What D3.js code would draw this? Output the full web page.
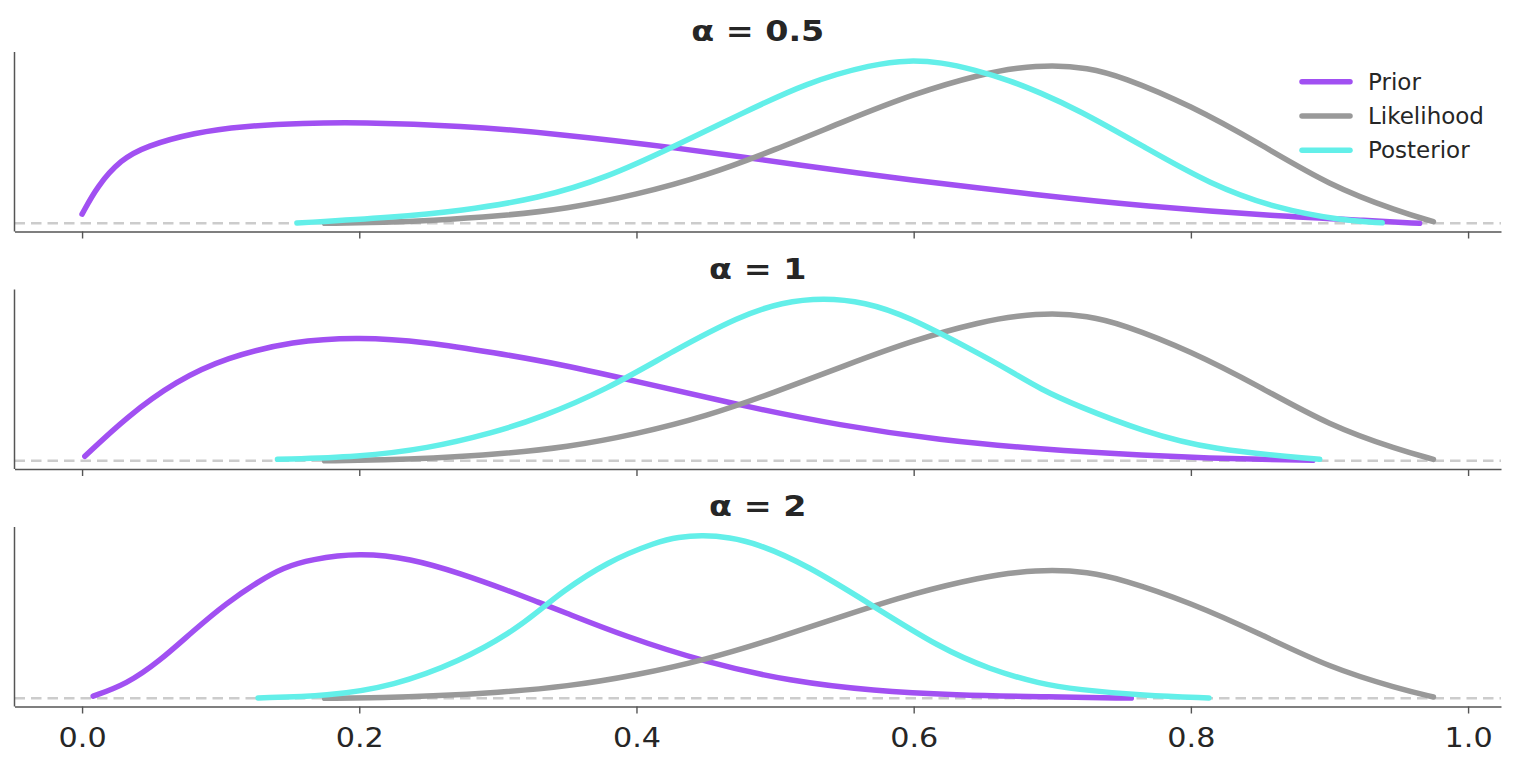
<!DOCTYPE html>
<html>
<head>
<meta charset="utf-8">
<script src="https://cdn.jsdelivr.net/npm/d3@7"></script>
<style>
  body { margin: 0; background: #fff; }
  svg { display: block; }
  text { font-family: "DejaVu Sans", sans-serif; fill: #262626; }
</style>
</head>
<body>
<div id="chart"></div>
<script>
// tick values / labels
const xTicks = [0, 0.2, 0.4, 0.6, 0.8, 1.0];
const xTickLabels = ['0.0', '0.2', '0.4', '0.6', '0.8', '1.0'];
const panelTitles = ['α = 0.5', 'α = 1', 'α = 2'];
const seriesNames = ['Prior', 'Likelihood', 'Posterior'];
const seriesColors = ['#a150f2', '#999999', '#63efe9'];

// likelihood (same in every panel)
const likelihoodX = [0.175, 0.22, 0.25, 0.30, 0.35, 0.40, 0.45, 0.50, 0.55, 0.60, 0.65, 0.675, 0.70, 0.725, 0.75, 0.80, 0.85, 0.90, 0.95, 0.975];
const likelihoodY = [0.00, 0.02, 0.05, 0.13, 0.27, 0.53, 0.88, 1.36, 1.89, 2.40, 2.77, 2.88, 2.93, 2.88, 2.72, 2.18, 1.47, 0.70, 0.22, 0.03];

// alpha = 0.5
const priorX05 = [0.0, 0.011, 0.028, 0.046, 0.081, 0.116, 0.16, 0.20, 0.273, 0.345, 0.426, 0.523, 0.595, 0.691, 0.766, 0.862, 0.93, 0.965];
const priorY05 = [0.17, 0.69, 1.18, 1.43, 1.68, 1.80, 1.855, 1.87, 1.81, 1.65, 1.41, 1.06, 0.81, 0.52, 0.32, 0.135, 0.05, 0.0];
const postX05 = [0.155, 0.224, 0.273, 0.330, 0.379, 0.426, 0.475, 0.523, 0.571, 0.597, 0.62, 0.643, 0.670, 0.691, 0.718, 0.766, 0.814, 0.862, 0.910, 0.938];
const postY05 = [0.005, 0.11, 0.23, 0.46, 0.85, 1.41, 2.02, 2.61, 2.95, 3.02, 2.98, 2.85, 2.64, 2.42, 2.11, 1.42, 0.72, 0.27, 0.05, 0.01];

// alpha = 1
const priorX1 = [0.002, 0.032, 0.068, 0.104, 0.152, 0.20, 0.249, 0.297, 0.345, 0.403, 0.475, 0.547, 0.619, 0.691, 0.766, 0.83, 0.888];
const priorY1 = [0.09, 0.87, 1.59, 2.05, 2.38, 2.46, 2.36, 2.15, 1.92, 1.56, 1.10, 0.70, 0.41, 0.23, 0.11, 0.04, 0.01];
const postX1 = [0.141, 0.20, 0.249, 0.297, 0.330, 0.379, 0.427, 0.475, 0.505, 0.535, 0.565, 0.595, 0.643, 0.670, 0.691, 0.718, 0.766, 0.814, 0.893];
const postY1 = [0.03, 0.08, 0.24, 0.56, 0.85, 1.42, 2.19, 2.88, 3.15, 3.24, 3.15, 2.88, 2.19, 1.78, 1.43, 1.09, 0.58, 0.22, 0.03];

// alpha = 2
const priorX2 = [0.008, 0.032, 0.056, 0.080, 0.104, 0.128, 0.145, 0.165, 0.20, 0.237, 0.273, 0.309, 0.330, 0.345, 0.391, 0.451, 0.511, 0.571, 0.631, 0.691, 0.757];
const priorY2 = [0.05, 0.32, 0.85, 1.53, 2.17, 2.68, 2.98, 3.17, 3.32, 3.19, 2.85, 2.44, 2.18, 2.00, 1.42, 0.81, 0.39, 0.17, 0.075, 0.036, 0.005];
const postX2 = [0.127, 0.177, 0.225, 0.273, 0.309, 0.330, 0.345, 0.379, 0.415, 0.43, 0.448, 0.467, 0.487, 0.523, 0.571, 0.619, 0.655, 0.691, 0.718, 0.766, 0.813];
const postY2 = [0.01, 0.05, 0.28, 0.85, 1.49, 2.00, 2.40, 3.12, 3.57, 3.68, 3.72, 3.67, 3.53, 3.04, 2.10, 1.15, 0.66, 0.33, 0.20, 0.06, 0.01];

const zip = (xs, ys) => xs.map((v, i) => [v, ys[i]]);
const likelihood = zip(likelihoodX, likelihoodY);
const panels = [
  {title: panelTitles[0], series: [zip(priorX05, priorY05), likelihood, zip(postX05, postY05)]},
  {title: panelTitles[1], series: [zip(priorX1, priorY1), likelihood, zip(postX1, postY1)]},
  {title: panelTitles[2], series: [zip(priorX2, priorY2), likelihood, zip(postX2, postY2)]}
];

const width = 1517, height = 767;
const left = 14.5, right = 1501;
const panelTop = [52, 289.5, 527];
const panelH = 179.5;

const svg = d3.select('#chart').append('svg')
  .attr('width', width).attr('height', height);

// shared x, 5% margin on data extent like matplotlib
const allX = panels.flatMap(p => p.series.flatMap(s => s.map(d => d[0])));
const xMin = d3.min(allX), xMax = d3.max(allX), xPad = (xMax - xMin) * 0.05;
const x = d3.scaleLinear().domain([xMin - xPad, xMax + xPad]).range([left, right]);

panels.forEach((p, i) => {
  const top = panelTop[i], bottom = top + panelH;
  const yMax = d3.max(p.series, s => d3.max(s, d => d[1]));
  const y = d3.scaleLinear().domain([-0.05 * yMax, 1.05 * yMax]).range([bottom, top]);
  const g = svg.append('g');

  // zero line
  g.append('line')
    .attr('x1', left).attr('x2', right)
    .attr('y1', y(0)).attr('y2', y(0))
    .attr('stroke', '#cccccc').attr('stroke-width', 2.5)
    .attr('stroke-dasharray', '10.5,6');

  const line = d3.line()
    .x(d => x(d[0])).y(d => y(d[1]))
    .curve(d3.curveBasis);

  g.selectAll('.curve').data(p.series).join('path')
    .attr('class', 'curve')
    .attr('d', line)
    .attr('fill', 'none')
    .attr('stroke', (d, k) => seriesColors[k])
    .attr('stroke-width', 5.5)
    .attr('stroke-linecap', 'round')
    .attr('stroke-linejoin', 'round');

  // left spine
  g.append('line')
    .attr('x1', left).attr('x2', left)
    .attr('y1', top).attr('y2', bottom)
    .attr('stroke', '#555').attr('stroke-width', 1.5);

  // bottom axis, labels only on last panel
  const last = i === panels.length - 1;
  const axis = d3.axisBottom(x).tickValues(xTicks)
    .tickSize(7).tickSizeOuter(0)
    .tickFormat((d, k) => last ? xTickLabels[k] : '');
  const ax = g.append('g').attr('transform', `translate(0,${bottom})`).call(axis);
  ax.select('.domain').attr('stroke', '#555').attr('stroke-width', 1.5);
  ax.selectAll('.tick line').attr('stroke', '#555').attr('stroke-width', 1.4);
  ax.selectAll('.tick text')
    .attr('y', 40.5).attr('dy', 0)
    .attr('transform', 'scale(1.12,1)')
    .style('font-family', '"DejaVu Sans", sans-serif')
    .style('font-size', '27px').attr('fill', '#262626');

  g.append('text')
    .attr('transform', `translate(${(left + right) / 2},${top - 11}) scale(1.15,1)`)
    .attr('text-anchor', 'middle')
    .style('font-size', '29px').style('font-weight', 'bold')
    .text(p.title);

  if (i === 0) {
    const lg = g.append('g').attr('transform', 'translate(1302,81.7)');
    seriesNames.forEach((name, k) => {
      const row = lg.append('g').attr('transform', `translate(0,${k * 34.3})`);
      row.append('line').attr('x1', 0).attr('x2', 48)
        .attr('stroke', seriesColors[k]).attr('stroke-width', 5.5)
        .attr('stroke-linecap', 'round');
      row.append('text').attr('x', 66).attr('y', 8)
        .style('font-size', '23px').text(name);
    });
  }
});
</script>
</body>
</html>
